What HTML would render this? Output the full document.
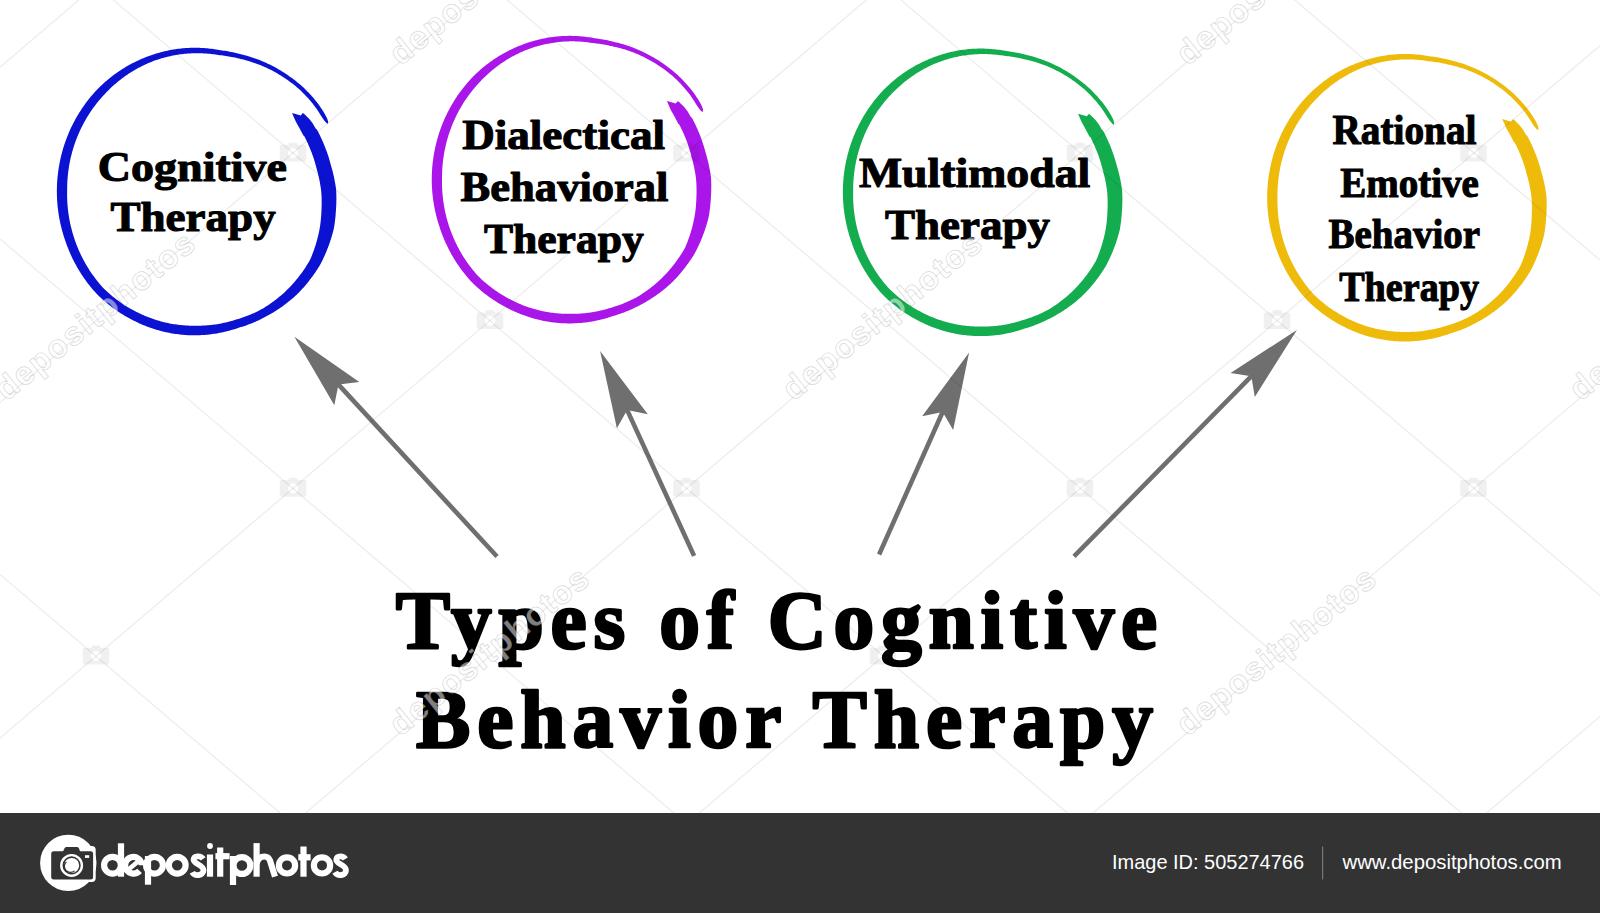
<!DOCTYPE html><html><head><meta charset="utf-8"><style>html,body{margin:0;padding:0;background:#fff;}body{width:1600px;height:913px;overflow:hidden;position:relative;font-family:"Liberation Serif",serif;}svg{position:absolute;left:0;top:0;}</style></head><body>
<svg width="1600" height="913" viewBox="0 0 1600 913">
<defs><path id="ring" d="M106.80 -77.40 L108.30 -76.60 L110.00 -74.80 L113.30 -71.50 L116.80 -67.00 L119.60 -62.00 L120.89 -60.92 L121.65 -59.56 L122.37 -58.19 L123.08 -56.80 L123.77 -55.40 L124.44 -54.00 L125.11 -52.59 L125.75 -51.17 L126.39 -49.74 L126.97 -48.40 L127.59 -46.96 L128.20 -45.51 L128.79 -44.06 L129.37 -42.59 L129.94 -41.12 L130.48 -39.64 L131.02 -38.16 L131.53 -36.66 L132.03 -35.16 L132.52 -33.65 L132.99 -32.14 L133.44 -30.62 L133.88 -29.09 L134.30 -27.55 L134.70 -26.01 L135.04 -24.83 L135.49 -23.29 L135.93 -21.75 L136.35 -20.19 L136.75 -18.63 L137.14 -17.06 L137.51 -15.49 L137.86 -13.91 L138.20 -12.32 L138.52 -10.72 L138.83 -9.12 L139.11 -7.52 L139.38 -5.91 L139.63 -4.29 L139.87 -2.67 L140.09 -1.04 L140.22 0.98 L140.29 2.61 L140.33 4.25 L140.37 5.88 L140.38 7.52 L140.38 9.16 L140.36 10.80 L140.32 12.44 L140.26 14.08 L140.19 15.72 L140.09 17.37 L139.99 19.01 L139.89 20.47 L139.78 22.12 L139.66 23.77 L139.52 25.41 L139.36 27.06 L139.19 28.71 L138.99 30.36 L138.78 32.00 L138.55 33.65 L138.31 35.29 L138.04 36.94 L137.65 38.85 L137.25 40.46 L136.83 42.07 L136.39 43.67 L135.93 45.26 L135.45 46.85 L134.96 48.43 L134.45 50.01 L133.93 51.59 L133.39 53.15 L132.83 54.72 L132.25 56.27 L131.66 57.82 L131.05 59.36 L130.42 60.90 L129.78 62.42 L129.12 63.95 L128.44 65.46 L127.75 66.96 L127.04 68.46 L126.32 69.95 L125.58 71.43 L124.82 72.91 L123.87 74.70 L122.99 76.14 L122.12 77.53 L121.24 78.92 L120.34 80.30 L119.43 81.66 L118.50 83.02 L117.56 84.36 L116.60 85.69 L115.63 87.01 L114.65 88.32 L113.65 89.62 L112.64 90.90 L111.61 92.17 L110.58 93.43 L109.53 94.68 L108.46 95.91 L107.39 97.13 L106.30 98.34 L105.20 99.53 L104.08 100.71 L102.96 101.88 L101.82 103.04 L100.67 104.18 L99.44 105.34 L98.24 106.42 L97.03 107.49 L95.80 108.54 L94.57 109.58 L93.33 110.61 L92.08 111.61 L90.82 112.61 L89.55 113.58 L88.27 114.55 L86.98 115.49 L85.68 116.42 L84.37 117.34 L83.05 118.24 L81.72 119.12 L80.39 119.99 L79.04 120.84 L77.69 121.67 L76.33 122.49 L74.97 123.29 L73.59 124.08 L72.21 124.85 L70.82 125.60 L69.39 126.36 L68.00 127.10 L66.60 127.82 L65.19 128.52 L63.78 129.21 L62.36 129.89 L60.93 130.54 L59.50 131.18 L58.06 131.80 L56.61 132.40 L55.16 132.99 L53.70 133.56 L52.24 134.11 L50.78 134.65 L49.30 135.16 L47.83 135.66 L46.35 136.14 L44.86 136.61 L43.37 137.06 L42.09 137.46 L40.62 137.96 L39.15 138.44 L37.66 138.91 L36.18 139.36 L34.69 139.79 L33.19 140.20 L31.69 140.60 L30.18 140.98 L28.67 141.34 L27.16 141.68 L25.64 142.01 L24.12 142.31 L22.59 142.60 L21.06 142.88 L19.53 143.13 L18.00 143.37 L16.46 143.59 L14.92 143.79 L13.38 143.97 L11.84 144.14 L10.29 144.28 L8.74 144.41 L7.20 144.52 L5.64 144.62 L4.09 144.69 L2.54 144.75 L0.99 144.79 L-0.49 144.80 L-2.05 144.80 L-3.60 144.79 L-5.16 144.75 L-6.71 144.70 L-8.26 144.63 L-9.81 144.54 L-11.37 144.43 L-12.92 144.30 L-14.46 144.16 L-16.01 144.00 L-17.56 143.81 L-19.10 143.62 L-20.64 143.40 L-22.18 143.16 L-23.72 142.91 L-25.25 142.64 L-26.79 142.35 L-28.31 142.05 L-29.84 141.72 L-31.36 141.38 L-32.88 141.02 L-34.39 140.64 L-35.90 140.25 L-37.41 139.83 L-38.91 139.40 L-40.41 138.96 L-41.90 138.49 L-43.39 138.01 L-44.87 137.51 L-46.35 136.99 L-47.82 136.45 L-49.28 135.90 L-50.74 135.33 L-52.20 134.75 L-53.64 134.14 L-55.08 133.52 L-56.52 132.89 L-57.95 132.23 L-59.37 131.56 L-60.78 130.87 L-62.19 130.17 L-63.58 129.45 L-64.97 128.71 L-66.32 127.99 L-67.71 127.24 L-69.08 126.47 L-70.45 125.68 L-71.81 124.88 L-73.16 124.07 L-74.50 123.23 L-75.84 122.38 L-77.16 121.52 L-78.48 120.64 L-79.78 119.74 L-81.08 118.83 L-82.37 117.90 L-83.64 116.96 L-84.91 116.01 L-86.17 115.03 L-87.41 114.05 L-88.65 113.05 L-89.88 112.03 L-91.09 111.00 L-92.30 109.96 L-93.49 108.90 L-94.67 107.83 L-95.84 106.74 L-97.00 105.64 L-98.15 104.52 L-99.41 103.25 L-100.50 102.07 L-101.57 100.87 L-102.62 99.67 L-103.67 98.45 L-104.69 97.21 L-105.71 95.97 L-106.71 94.72 L-107.70 93.45 L-108.68 92.17 L-109.64 90.88 L-110.59 89.58 L-111.52 88.27 L-112.44 86.95 L-113.34 85.62 L-114.23 84.28 L-115.11 82.93 L-115.97 81.57 L-116.81 80.20 L-117.64 78.82 L-118.46 77.43 L-119.26 76.03 L-120.04 74.62 L-120.81 73.20 L-121.57 71.78 L-122.31 70.34 L-123.03 68.90 L-123.74 67.45 L-124.43 65.99 L-125.11 64.53 L-125.77 63.06 L-126.42 61.58 L-127.04 60.09 L-127.66 58.59 L-128.25 57.09 L-128.83 55.59 L-129.40 54.07 L-129.95 52.55 L-130.48 51.03 L-130.99 49.52 L-131.50 47.99 L-132.00 46.45 L-132.48 44.91 L-132.95 43.36 L-133.40 41.81 L-133.84 40.25 L-134.25 38.69 L-134.65 37.12 L-135.04 35.55 L-135.40 33.97 L-135.75 32.39 L-136.09 30.81 L-136.40 29.22 L-136.70 27.63 L-136.98 26.03 L-137.25 24.43 L-137.50 22.83 L-137.73 21.23 L-137.94 19.62 L-138.14 18.02 L-138.31 16.41 L-138.48 14.79 L-138.62 13.18 L-138.75 11.57 L-138.86 9.95 L-138.95 8.33 L-139.02 6.71 L-139.08 5.09 L-139.12 3.47 L-139.14 1.85 L-139.15 0.23 L-139.13 -1.32 L-139.10 -2.93 L-139.05 -4.55 L-138.98 -6.17 L-138.89 -7.79 L-138.79 -9.40 L-138.67 -11.02 L-138.53 -12.63 L-138.37 -14.24 L-138.20 -15.85 L-138.01 -17.46 L-137.80 -19.06 L-137.58 -20.66 L-137.34 -22.26 L-137.08 -23.85 L-136.80 -25.45 L-136.51 -27.04 L-136.20 -28.62 L-135.87 -30.20 L-135.53 -31.78 L-135.17 -33.35 L-134.79 -34.92 L-134.40 -36.49 L-133.99 -38.05 L-133.56 -39.60 L-133.12 -41.15 L-132.66 -42.69 L-132.18 -44.23 L-131.69 -45.77 L-131.18 -47.29 L-130.65 -48.81 L-130.11 -50.33 L-129.55 -51.84 L-128.98 -53.34 L-128.39 -54.83 L-127.78 -56.32 L-127.16 -57.80 L-126.52 -59.27 L-125.87 -60.74 L-125.20 -62.19 L-124.52 -63.64 L-123.82 -65.09 L-123.10 -66.52 L-122.37 -67.94 L-121.63 -69.36 L-120.86 -70.77 L-120.09 -72.16 L-119.30 -73.55 L-118.49 -74.93 L-117.67 -76.30 L-116.84 -77.66 L-115.99 -79.01 L-115.13 -80.35 L-114.25 -81.68 L-113.36 -83.00 L-112.45 -84.31 L-111.53 -85.61 L-110.60 -86.90 L-109.65 -88.17 L-108.69 -89.44 L-107.72 -90.69 L-106.73 -91.93 L-105.73 -93.16 L-104.72 -94.38 L-103.69 -95.59 L-102.65 -96.79 L-101.60 -97.97 L-100.53 -99.14 L-99.46 -100.30 L-98.37 -101.44 L-97.26 -102.57 L-96.13 -103.67 L-95.00 -104.77 L-93.85 -105.85 L-92.69 -106.91 L-91.52 -107.97 L-90.34 -109.01 L-89.14 -110.03 L-87.94 -111.04 L-86.73 -112.04 L-85.50 -113.02 L-84.27 -113.99 L-83.02 -114.94 L-81.77 -115.88 L-80.50 -116.80 L-79.23 -117.71 L-77.95 -118.60 L-76.65 -119.48 L-75.35 -120.34 L-74.04 -121.19 L-72.72 -122.02 L-71.40 -122.84 L-70.06 -123.64 L-68.72 -124.42 L-67.36 -125.19 L-66.00 -125.94 L-64.63 -126.68 L-63.26 -127.40 L-61.88 -128.10 L-60.49 -128.79 L-59.09 -129.46 L-57.69 -130.12 L-56.28 -130.76 L-54.86 -131.38 L-53.44 -131.98 L-52.01 -132.57 L-50.57 -133.14 L-49.13 -133.70 L-47.68 -134.24 L-46.24 -134.76 L-44.78 -135.28 L-43.33 -135.79 L-41.87 -136.27 L-40.40 -136.74 L-38.93 -137.19 L-37.45 -137.62 L-35.97 -138.04 L-34.49 -138.44 L-33.00 -138.82 L-31.50 -139.18 L-30.01 -139.53 L-28.51 -139.86 L-27.00 -140.17 L-25.50 -140.47 L-23.99 -140.74 L-22.48 -141.00 L-20.96 -141.24 L-19.45 -141.46 L-17.93 -141.67 L-16.41 -141.86 L-14.88 -142.03 L-13.36 -142.18 L-11.83 -142.31 L-10.31 -142.43 L-8.78 -142.53 L-7.25 -142.61 L-5.72 -142.67 L-4.19 -142.72 L-2.66 -142.75 L-1.13 -142.75 L0.40 -142.75 L1.93 -142.72 L3.46 -142.67 L4.98 -142.61 L6.51 -142.52 L8.04 -142.42 L9.56 -142.31 L11.08 -142.17 L12.61 -142.02 L14.12 -141.85 L15.64 -141.66 L17.16 -141.45 L18.67 -141.23 L20.18 -140.99 L21.69 -140.73 L23.19 -140.45 L24.50 -140.27 L26.02 -140.08 L27.54 -139.87 L29.06 -139.65 L30.58 -139.40 L32.10 -139.14 L33.61 -138.87 L35.13 -138.57 L36.64 -138.26 L38.15 -137.93 L39.66 -137.58 L41.16 -137.22 L42.66 -136.84 L44.08 -136.46 L45.58 -136.11 L47.10 -135.74 L48.61 -135.34 L50.12 -134.93 L51.63 -134.50 L53.13 -134.06 L54.63 -133.59 L56.13 -133.11 L57.62 -132.60 L59.12 -132.08 L60.60 -131.55 L62.08 -130.99 L63.56 -130.41 L65.03 -129.82 L66.50 -129.21 L67.97 -128.58 L69.42 -127.93 L70.88 -127.27 L72.33 -126.59 L73.77 -125.90 L75.21 -125.19 L76.64 -124.45 L78.07 -123.71 L79.49 -122.94 L80.90 -122.16 L82.31 -121.36 L83.71 -120.54 L85.10 -119.70 L86.48 -118.85 L87.86 -117.98 L89.23 -117.09 L90.59 -116.18 L91.94 -115.26 L93.29 -114.32 L94.62 -113.37 L95.95 -112.40 L97.27 -111.41 L98.58 -110.40 L99.88 -109.38 L101.17 -108.34 L102.45 -107.29 L103.73 -106.22 L104.99 -105.14 L106.25 -104.04 L107.53 -102.88 L108.73 -101.72 L109.92 -100.54 L111.10 -99.35 L112.26 -98.14 L113.42 -96.92 L114.56 -95.68 L115.69 -94.43 L116.80 -93.16 L117.91 -91.88 L119.00 -90.59 L120.07 -89.28 L121.14 -87.96 L122.23 -86.55 L123.21 -85.17 L124.18 -83.77 L125.13 -82.36 L126.07 -80.94 L127.00 -79.50 L127.91 -78.06 L128.80 -76.59 L129.63 -75.10 L130.40 -73.57 L131.10 -72.00 L131.71 -70.38 L132.18 -68.69 L131.98 -66.66 L131.98 -66.66 L130.21 -67.64 L129.06 -68.93 L128.03 -70.27 L127.05 -71.64 L126.12 -73.02 L125.22 -74.42 L124.34 -75.84 L123.46 -77.24 L122.56 -78.64 L121.64 -80.02 L120.71 -81.40 L119.77 -82.76 L118.81 -84.11 L117.85 -85.35 L116.82 -86.64 L115.77 -87.91 L114.72 -89.18 L113.65 -90.43 L112.57 -91.66 L111.48 -92.88 L110.37 -94.09 L109.25 -95.28 L108.13 -96.46 L106.99 -97.62 L105.83 -98.77 L104.67 -99.91 L103.51 -100.96 L102.30 -102.03 L101.07 -103.09 L99.83 -104.13 L98.58 -105.15 L97.32 -106.15 L96.06 -107.14 L94.78 -108.11 L93.49 -109.06 L92.20 -110.00 L90.89 -110.92 L89.58 -111.82 L88.26 -112.71 L86.94 -113.58 L85.61 -114.44 L84.27 -115.28 L82.92 -116.10 L81.56 -116.90 L80.20 -117.69 L78.84 -118.46 L77.46 -119.21 L76.08 -119.95 L74.69 -120.66 L73.30 -121.36 L71.90 -122.05 L70.50 -122.71 L69.09 -123.36 L67.68 -123.99 L66.26 -124.60 L64.83 -125.19 L63.40 -125.76 L61.97 -126.31 L60.53 -126.85 L59.09 -127.37 L57.65 -127.87 L56.20 -128.35 L54.75 -128.82 L53.30 -129.27 L51.84 -129.70 L50.38 -130.11 L48.92 -130.50 L47.46 -130.88 L45.99 -131.24 L44.53 -131.58 L43.04 -131.90 L41.51 -132.28 L40.06 -132.63 L38.60 -132.96 L37.14 -133.28 L35.68 -133.57 L34.22 -133.85 L32.76 -134.11 L31.30 -134.35 L29.83 -134.57 L28.36 -134.77 L26.90 -134.96 L25.43 -135.13 L23.96 -135.28 L22.30 -135.49 L20.85 -135.72 L19.39 -135.94 L17.94 -136.15 L16.48 -136.33 L15.02 -136.50 L13.56 -136.65 L12.10 -136.79 L10.64 -136.91 L9.17 -137.01 L7.71 -137.09 L6.24 -137.16 L4.78 -137.21 L3.31 -137.24 L1.85 -137.26 L0.38 -137.25 L-1.08 -137.24 L-2.55 -137.20 L-4.01 -137.15 L-5.48 -137.08 L-6.94 -137.00 L-8.40 -136.89 L-9.86 -136.78 L-11.32 -136.64 L-12.78 -136.49 L-14.23 -136.32 L-15.68 -136.13 L-17.13 -135.92 L-18.58 -135.70 L-20.03 -135.46 L-21.47 -135.21 L-22.91 -134.94 L-24.35 -134.65 L-25.78 -134.34 L-27.21 -134.02 L-28.64 -133.68 L-30.06 -133.33 L-31.48 -132.96 L-32.89 -132.57 L-34.30 -132.16 L-35.71 -131.74 L-37.11 -131.30 L-38.50 -130.85 L-39.89 -130.38 L-41.28 -129.90 L-42.66 -129.39 L-44.03 -128.87 L-45.40 -128.33 L-46.76 -127.77 L-48.11 -127.19 L-49.45 -126.59 L-50.79 -125.98 L-52.12 -125.35 L-53.44 -124.71 L-54.75 -124.05 L-56.06 -123.37 L-57.36 -122.68 L-58.66 -121.98 L-59.94 -121.26 L-61.22 -120.53 L-62.49 -119.78 L-63.75 -119.02 L-65.00 -118.24 L-66.24 -117.45 L-67.47 -116.64 L-68.70 -115.82 L-69.92 -114.99 L-71.12 -114.14 L-72.32 -113.28 L-73.51 -112.40 L-74.69 -111.51 L-75.86 -110.61 L-77.01 -109.69 L-78.16 -108.76 L-79.30 -107.82 L-80.43 -106.86 L-81.55 -105.89 L-82.65 -104.91 L-83.75 -103.91 L-84.83 -102.91 L-85.91 -101.89 L-86.97 -100.85 L-88.02 -99.81 L-89.06 -98.75 L-90.09 -97.69 L-91.11 -96.61 L-92.12 -95.52 L-93.12 -94.43 L-94.12 -93.33 L-95.10 -92.21 L-96.07 -91.08 L-97.03 -89.95 L-97.97 -88.80 L-98.91 -87.64 L-99.83 -86.47 L-100.73 -85.29 L-101.63 -84.10 L-102.51 -82.90 L-103.38 -81.69 L-104.24 -80.46 L-105.08 -79.23 L-105.91 -77.99 L-106.73 -76.74 L-107.53 -75.48 L-108.32 -74.21 L-109.10 -72.93 L-109.86 -71.65 L-110.61 -70.35 L-111.34 -69.05 L-112.06 -67.73 L-112.77 -66.41 L-113.46 -65.08 L-114.14 -63.74 L-114.80 -62.40 L-115.45 -61.05 L-116.09 -59.69 L-116.71 -58.32 L-117.31 -56.94 L-117.90 -55.56 L-118.48 -54.17 L-119.04 -52.78 L-119.58 -51.38 L-120.11 -49.97 L-120.63 -48.56 L-121.13 -47.14 L-121.61 -45.71 L-122.08 -44.28 L-122.54 -42.84 L-122.98 -41.40 L-123.40 -39.96 L-123.81 -38.51 L-124.20 -37.05 L-124.58 -35.59 L-124.94 -34.13 L-125.28 -32.66 L-125.61 -31.19 L-125.93 -29.71 L-126.23 -28.23 L-126.51 -26.75 L-126.77 -25.26 L-127.03 -23.78 L-127.26 -22.28 L-127.48 -20.79 L-127.68 -19.29 L-127.87 -17.80 L-128.04 -16.30 L-128.19 -14.79 L-128.33 -13.29 L-128.45 -11.79 L-128.56 -10.28 L-128.65 -8.77 L-128.72 -7.26 L-128.78 -5.75 L-128.82 -4.25 L-128.85 -2.74 L-128.85 -1.23 L-128.86 0.35 L-128.88 1.86 L-128.89 3.37 L-128.89 4.89 L-128.86 6.40 L-128.82 7.91 L-128.77 9.42 L-128.70 10.93 L-128.61 12.44 L-128.51 13.95 L-128.39 15.46 L-128.25 16.96 L-128.10 18.47 L-127.93 19.98 L-127.74 21.48 L-127.54 22.98 L-127.33 24.48 L-127.09 25.97 L-126.84 27.47 L-126.58 28.96 L-126.30 30.45 L-126.00 31.94 L-125.69 33.42 L-125.36 34.90 L-125.01 36.37 L-124.65 37.84 L-124.28 39.31 L-123.88 40.78 L-123.48 42.24 L-123.05 43.69 L-122.61 45.14 L-122.16 46.59 L-121.68 48.05 L-121.19 49.49 L-120.69 50.92 L-120.17 52.34 L-119.64 53.76 L-119.09 55.18 L-118.53 56.58 L-117.95 57.98 L-117.36 59.38 L-116.75 60.76 L-116.12 62.14 L-115.48 63.52 L-114.83 64.88 L-114.16 66.24 L-113.48 67.59 L-112.78 68.93 L-112.07 70.27 L-111.34 71.60 L-110.60 72.91 L-109.85 74.23 L-109.08 75.53 L-108.30 76.82 L-107.50 78.10 L-106.69 79.38 L-105.86 80.65 L-105.03 81.90 L-104.17 83.15 L-103.31 84.39 L-102.43 85.61 L-101.54 86.83 L-100.63 88.04 L-99.71 89.23 L-98.78 90.42 L-97.84 91.59 L-96.88 92.76 L-95.91 93.91 L-94.93 95.05 L-93.94 96.19 L-92.93 97.31 L-91.99 98.23 L-90.91 99.27 L-89.82 100.29 L-88.72 101.31 L-87.60 102.31 L-86.48 103.29 L-85.35 104.27 L-84.20 105.23 L-83.05 106.17 L-81.89 107.11 L-80.71 108.02 L-79.53 108.93 L-78.34 109.82 L-77.14 110.69 L-75.93 111.56 L-74.71 112.40 L-73.49 113.24 L-72.25 114.05 L-71.01 114.86 L-69.76 115.64 L-68.50 116.42 L-67.23 117.18 L-65.96 117.92 L-64.67 118.65 L-63.38 119.36 L-62.09 120.06 L-60.75 120.76 L-59.44 121.44 L-58.13 122.10 L-56.81 122.74 L-55.49 123.37 L-54.16 123.99 L-52.82 124.59 L-51.47 125.17 L-50.12 125.73 L-48.77 126.29 L-47.41 126.82 L-46.04 127.34 L-44.67 127.84 L-43.30 128.33 L-41.92 128.80 L-40.53 129.25 L-39.14 129.69 L-37.75 130.11 L-36.35 130.51 L-34.95 130.90 L-33.54 131.27 L-32.13 131.63 L-30.72 131.97 L-29.30 132.29 L-27.89 132.59 L-26.46 132.88 L-25.04 133.16 L-23.61 133.41 L-22.18 133.65 L-20.75 133.87 L-19.32 134.08 L-17.89 134.26 L-16.45 134.44 L-15.01 134.59 L-13.57 134.73 L-12.13 134.85 L-10.69 134.95 L-9.25 135.04 L-7.81 135.11 L-6.37 135.16 L-4.92 135.20 L-3.48 135.22 L-2.04 135.22 L-0.60 135.21 L0.92 135.21 L2.36 135.21 L3.80 135.19 L5.24 135.15 L6.68 135.10 L8.13 135.03 L9.57 134.95 L11.01 134.84 L12.45 134.73 L13.88 134.59 L15.32 134.44 L16.76 134.27 L18.19 134.08 L19.62 133.88 L21.05 133.66 L22.48 133.42 L23.90 133.17 L25.32 132.90 L26.74 132.61 L28.16 132.31 L29.57 131.99 L30.99 131.65 L32.39 131.30 L33.80 130.93 L35.20 130.54 L36.59 130.14 L37.98 129.72 L39.37 129.29 L40.96 128.80 L42.36 128.39 L43.75 127.96 L45.14 127.51 L46.52 127.05 L47.90 126.57 L49.28 126.08 L50.65 125.56 L52.01 125.03 L53.38 124.49 L54.73 123.93 L56.08 123.35 L57.43 122.76 L58.77 122.15 L60.10 121.52 L61.43 120.88 L62.75 120.23 L64.06 119.55 L65.37 118.86 L66.62 118.14 L67.89 117.38 L69.15 116.60 L70.40 115.80 L71.64 114.99 L72.88 114.17 L74.10 113.33 L75.32 112.47 L76.53 111.60 L77.73 110.72 L78.92 109.82 L80.10 108.91 L81.27 107.99 L82.43 107.05 L83.58 106.10 L84.73 105.13 L85.86 104.15 L86.98 103.16 L88.09 102.15 L89.19 101.13 L90.28 100.10 L91.35 99.05 L92.42 98.00 L93.42 96.98 L94.46 95.89 L95.49 94.79 L96.50 93.68 L97.51 92.55 L98.50 91.41 L99.48 90.27 L100.45 89.11 L101.40 87.93 L102.35 86.75 L103.28 85.56 L104.19 84.35 L105.10 83.14 L105.99 81.91 L106.87 80.67 L107.74 79.43 L108.59 78.17 L109.43 76.90 L110.25 75.62 L111.06 74.34 L111.86 73.04 L112.65 71.73 L113.42 70.42 L114.16 69.12 L114.60 68.05 L115.20 66.64 L115.78 65.22 L116.34 63.80 L116.89 62.37 L117.42 60.94 L117.94 59.50 L118.44 58.06 L118.92 56.61 L119.39 55.16 L119.84 53.71 L120.28 52.25 L120.70 50.78 L121.10 49.32 L121.49 47.85 L121.86 46.38 L122.22 44.90 L122.56 43.43 L122.88 41.95 L123.19 40.46 L123.48 38.98 L123.75 37.49 L124.01 36.01 L124.18 34.80 L124.38 33.31 L124.57 31.81 L124.74 30.31 L124.89 28.81 L125.02 27.31 L125.14 25.81 L125.24 24.31 L125.33 22.82 L125.40 21.32 L125.45 19.83 L125.52 18.15 L125.58 16.66 L125.62 15.18 L125.65 13.69 L125.66 12.21 L125.65 10.72 L125.63 9.24 L125.59 7.76 L125.54 6.28 L125.47 4.81 L125.38 3.33 L125.28 1.86 L125.20 0.78 L125.02 -0.68 L124.83 -2.15 L124.62 -3.60 L124.39 -5.06 L124.15 -6.50 L123.89 -7.95 L123.62 -9.39 L123.33 -10.82 L123.03 -12.24 L122.71 -13.67 L122.38 -15.08 L122.04 -16.49 L121.67 -17.89 L121.30 -19.29 L120.91 -20.68 L120.44 -22.43 L120.09 -23.82 L119.73 -25.21 L119.35 -26.59 L118.96 -27.96 L118.55 -29.33 L118.13 -30.69 L117.70 -32.05 L117.25 -33.40 L116.78 -34.74 L116.31 -36.08 L115.82 -37.41 L115.31 -38.73 L114.79 -40.04 L114.26 -41.35 L113.72 -42.65 L113.13 -44.05 L112.58 -45.34 L112.01 -46.63 L111.43 -47.90 L110.84 -49.17 L110.23 -50.44 L109.61 -51.69 L108.98 -52.94 L108.36 -54.19 L107.40 -54.90 L103.10 -63.10 L99.90 -68.70 L98.20 -72.60 L97.10 -75.00 L96.10 -77.60 L104.80 -75.00Z"/></defs>
<use href="#ring" transform="translate(196.00 190.50)" fill="#0c12d2"/>
<use href="#ring" transform="translate(570.90 178.60)" fill="#aa15ea"/>
<use href="#ring" transform="translate(982.00 191.30)" fill="#13ad50"/>
<use href="#ring" transform="translate(1406.30 196.70)" fill="#efbb0b"/>
<path d="M294.40 336.80 L334.31 405.15 L338.46 384.58 L359.30 382.10 Z" fill="#6f6f6f"/><line x1="336.43" y1="382.38" x2="497.00" y2="556.50" stroke="#6f6f6f" stroke-width="4.6"/>
<path d="M600.10 351.00 L616.88 428.35 L627.20 410.08 L647.78 414.17 Z" fill="#6f6f6f"/><line x1="625.95" y1="407.35" x2="694.10" y2="555.90" stroke="#6f6f6f" stroke-width="4.6"/>
<path d="M969.10 352.60 L922.10 416.28 L942.64 411.97 L953.15 430.12 Z" fill="#6f6f6f"/><line x1="943.86" y1="409.23" x2="879.10" y2="554.50" stroke="#6f6f6f" stroke-width="4.6"/>
<path d="M1296.90 329.90 L1230.56 373.07 L1251.31 376.23 L1254.80 396.92 Z" fill="#6f6f6f"/><line x1="1253.41" y1="374.09" x2="1074.00" y2="556.40" stroke="#6f6f6f" stroke-width="4.6"/>
<g font-family="Liberation Serif" font-weight="bold" fill="#000" stroke="#000" stroke-linejoin="round">
<text x="97.80" y="180.60" font-size="42.60" stroke-width="1.10" textLength="189.20" lengthAdjust="spacingAndGlyphs">Cognitive</text>
<text x="110.50" y="231.00" font-size="42.60" stroke-width="1.10" textLength="165.20" lengthAdjust="spacingAndGlyphs">Therapy</text>
<text x="462.20" y="149.10" font-size="42.60" stroke-width="1.10" textLength="202.80" lengthAdjust="spacingAndGlyphs">Dialectical</text>
<text x="460.60" y="201.40" font-size="42.60" stroke-width="1.10" textLength="207.90" lengthAdjust="spacingAndGlyphs">Behavioral</text>
<text x="483.90" y="253.40" font-size="42.60" stroke-width="1.10" textLength="160.00" lengthAdjust="spacingAndGlyphs">Therapy</text>
<text x="858.90" y="187.00" font-size="42.60" stroke-width="1.10" textLength="231.40" lengthAdjust="spacingAndGlyphs">Multimodal</text>
<text x="885.10" y="239.10" font-size="42.60" stroke-width="1.10" textLength="164.90" lengthAdjust="spacingAndGlyphs">Therapy</text>
<text x="1332.50" y="143.80" font-size="41.20" stroke-width="1.10" textLength="144.00" lengthAdjust="spacingAndGlyphs">Rational</text>
<text x="1340.30" y="196.90" font-size="41.20" stroke-width="1.10" textLength="138.50" lengthAdjust="spacingAndGlyphs">Emotive</text>
<text x="1328.50" y="247.90" font-size="41.20" stroke-width="1.10" textLength="151.50" lengthAdjust="spacingAndGlyphs">Behavior</text>
<text x="1339.20" y="300.50" font-size="41.20" stroke-width="1.10" textLength="139.80" lengthAdjust="spacingAndGlyphs">Therapy</text>
<text x="395.80" y="647.60" font-size="81.50" stroke-width="2.60" textLength="761.30" lengthAdjust="spacing">Types of Cognitive</text>
<text x="416.00" y="746.70" font-size="81.50" stroke-width="2.60" textLength="736.90" lengthAdjust="spacing">Behavior Therapy</text>
</g>
<g stroke="#000" stroke-opacity="0.075" stroke-width="1.3" fill="none">
<line x1="0.0" y1="67.2" x2="78.9" y2="0.0"/>
<line x1="0.0" y1="402.6" x2="472.5" y2="0.0"/>
<line x1="0.0" y1="738.0" x2="866.2" y2="0.0"/>
<line x1="305.6" y1="813.0" x2="1259.9" y2="0.0"/>
<line x1="699.3" y1="813.0" x2="1600.0" y2="45.6"/>
<line x1="1093.0" y1="813.0" x2="1600.0" y2="381.0"/>
<line x1="1486.6" y1="813.0" x2="1600.0" y2="716.4"/>
<line x1="1294.7" y1="0.0" x2="1600.0" y2="260.1"/>
<line x1="900.9" y1="0.0" x2="1600.0" y2="595.6"/>
<line x1="507.2" y1="0.0" x2="1461.4" y2="813.0"/>
<line x1="113.4" y1="0.0" x2="1067.6" y2="813.0"/>
<line x1="0.0" y1="238.9" x2="673.8" y2="813.0"/>
<line x1="0.0" y1="574.4" x2="280.1" y2="813.0"/>
</g>
<g fill="#000" fill-opacity="0.06">
<path fill-rule="evenodd" d="M281.7 144.7 h22.6 a2 2 0 0 1 2 2 v12.7 a2 2 0 0 1 -2 2 h-22.6 a2 2 0 0 1 -2 -2 v-12.7 a2 2 0 0 1 2 -2z M293.0 148.0 a5 5 0 1 0 0.01 0z"/>
<rect x="288.5" y="142.4" width="9" height="2.6" rx="1"/>
<path fill-rule="evenodd" d="M675.2 144.7 h22.6 a2 2 0 0 1 2 2 v12.7 a2 2 0 0 1 -2 2 h-22.6 a2 2 0 0 1 -2 -2 v-12.7 a2 2 0 0 1 2 -2z M686.5 148.0 a5 5 0 1 0 0.01 0z"/>
<rect x="682.0" y="142.4" width="9" height="2.6" rx="1"/>
<path fill-rule="evenodd" d="M1068.7 144.7 h22.6 a2 2 0 0 1 2 2 v12.7 a2 2 0 0 1 -2 2 h-22.6 a2 2 0 0 1 -2 -2 v-12.7 a2 2 0 0 1 2 -2z M1080.0 148.0 a5 5 0 1 0 0.01 0z"/>
<rect x="1075.5" y="142.4" width="9" height="2.6" rx="1"/>
<path fill-rule="evenodd" d="M1462.2 144.7 h22.6 a2 2 0 0 1 2 2 v12.7 a2 2 0 0 1 -2 2 h-22.6 a2 2 0 0 1 -2 -2 v-12.7 a2 2 0 0 1 2 -2z M1473.5 148.0 a5 5 0 1 0 0.01 0z"/>
<rect x="1469.0" y="142.4" width="9" height="2.6" rx="1"/>
<path fill-rule="evenodd" d="M281.7 480.0 h22.6 a2 2 0 0 1 2 2 v12.7 a2 2 0 0 1 -2 2 h-22.6 a2 2 0 0 1 -2 -2 v-12.7 a2 2 0 0 1 2 -2z M293.0 483.3 a5 5 0 1 0 0.01 0z"/>
<rect x="288.5" y="477.7" width="9" height="2.6" rx="1"/>
<path fill-rule="evenodd" d="M675.2 480.0 h22.6 a2 2 0 0 1 2 2 v12.7 a2 2 0 0 1 -2 2 h-22.6 a2 2 0 0 1 -2 -2 v-12.7 a2 2 0 0 1 2 -2z M686.5 483.3 a5 5 0 1 0 0.01 0z"/>
<rect x="682.0" y="477.7" width="9" height="2.6" rx="1"/>
<path fill-rule="evenodd" d="M1068.7 480.0 h22.6 a2 2 0 0 1 2 2 v12.7 a2 2 0 0 1 -2 2 h-22.6 a2 2 0 0 1 -2 -2 v-12.7 a2 2 0 0 1 2 -2z M1080.0 483.3 a5 5 0 1 0 0.01 0z"/>
<rect x="1075.5" y="477.7" width="9" height="2.6" rx="1"/>
<path fill-rule="evenodd" d="M1462.2 480.0 h22.6 a2 2 0 0 1 2 2 v12.7 a2 2 0 0 1 -2 2 h-22.6 a2 2 0 0 1 -2 -2 v-12.7 a2 2 0 0 1 2 -2z M1473.5 483.3 a5 5 0 1 0 0.01 0z"/>
<rect x="1469.0" y="477.7" width="9" height="2.6" rx="1"/>
<path fill-rule="evenodd" d="M478.7 312.4 h22.6 a2 2 0 0 1 2 2 v12.7 a2 2 0 0 1 -2 2 h-22.6 a2 2 0 0 1 -2 -2 v-12.7 a2 2 0 0 1 2 -2z M490.0 315.7 a5 5 0 1 0 0.01 0z"/>
<rect x="485.5" y="310.1" width="9" height="2.6" rx="1"/>
<path fill-rule="evenodd" d="M1265.7 312.4 h22.6 a2 2 0 0 1 2 2 v12.7 a2 2 0 0 1 -2 2 h-22.6 a2 2 0 0 1 -2 -2 v-12.7 a2 2 0 0 1 2 -2z M1277.0 315.7 a5 5 0 1 0 0.01 0z"/>
<rect x="1272.5" y="310.1" width="9" height="2.6" rx="1"/>
<path fill-rule="evenodd" d="M84.7 647.7 h22.6 a2 2 0 0 1 2 2 v12.7 a2 2 0 0 1 -2 2 h-22.6 a2 2 0 0 1 -2 -2 v-12.7 a2 2 0 0 1 2 -2z M96.0 651.0 a5 5 0 1 0 0.01 0z"/>
<rect x="91.5" y="645.4" width="9" height="2.6" rx="1"/>
<path fill-rule="evenodd" d="M871.7 647.7 h22.6 a2 2 0 0 1 2 2 v12.7 a2 2 0 0 1 -2 2 h-22.6 a2 2 0 0 1 -2 -2 v-12.7 a2 2 0 0 1 2 -2z M883.0 651.0 a5 5 0 1 0 0.01 0z"/>
<rect x="878.5" y="645.4" width="9" height="2.6" rx="1"/>
</g>
<text transform="translate(98.0 318.7) rotate(-39)" x="0" y="7" text-anchor="middle" font-family="Liberation Sans" font-weight="bold" font-size="33" letter-spacing="1.5" fill="#fff" fill-opacity="0.5" stroke="#000" stroke-opacity="0.13" stroke-width="1.2">depositphotos</text>
<text transform="translate(885.0 318.7) rotate(-39)" x="0" y="7" text-anchor="middle" font-family="Liberation Sans" font-weight="bold" font-size="33" letter-spacing="1.5" fill="#fff" fill-opacity="0.5" stroke="#000" stroke-opacity="0.13" stroke-width="1.2">depositphotos</text>
<text transform="translate(1672.0 318.7) rotate(-39)" x="0" y="7" text-anchor="middle" font-family="Liberation Sans" font-weight="bold" font-size="33" letter-spacing="1.5" fill="#fff" fill-opacity="0.5" stroke="#000" stroke-opacity="0.13" stroke-width="1.2">depositphotos</text>
<text transform="translate(492.0 654.0) rotate(-39)" x="0" y="7" text-anchor="middle" font-family="Liberation Sans" font-weight="bold" font-size="33" letter-spacing="1.5" fill="#fff" fill-opacity="0.5" stroke="#000" stroke-opacity="0.13" stroke-width="1.2">depositphotos</text>
<text transform="translate(1279.0 654.0) rotate(-39)" x="0" y="7" text-anchor="middle" font-family="Liberation Sans" font-weight="bold" font-size="33" letter-spacing="1.5" fill="#fff" fill-opacity="0.5" stroke="#000" stroke-opacity="0.13" stroke-width="1.2">depositphotos</text>
<text transform="translate(492.0 -16.7) rotate(-39)" x="0" y="7" text-anchor="middle" font-family="Liberation Sans" font-weight="bold" font-size="33" letter-spacing="1.5" fill="#fff" fill-opacity="0.5" stroke="#000" stroke-opacity="0.13" stroke-width="1.2">depositphotos</text>
<text transform="translate(1279.0 -16.7) rotate(-39)" x="0" y="7" text-anchor="middle" font-family="Liberation Sans" font-weight="bold" font-size="33" letter-spacing="1.5" fill="#fff" fill-opacity="0.5" stroke="#000" stroke-opacity="0.13" stroke-width="1.2">depositphotos</text>
<rect x="0" y="813" width="1600" height="100" fill="#333333"/>

<g fill="#ffffff">
 <circle cx="68.3" cy="862.9" r="28.2"/>
 <rect x="52" y="846" width="43.7" height="36" rx="4"/>
</g>
<g fill="#333333">
 <rect x="51.2" y="851.3" width="41.9" height="28.3" rx="2.5"/>
 <path d="M62.8 852 L64.6 848.2 Q65.2 847.1 66.5 847.1 L77 847.1 Q78.2 847.1 78.8 848.2 L80.4 852 Z"/>
</g>
<circle cx="71.6" cy="865.4" r="10.3" fill="none" stroke="#fff" stroke-width="2.4"/>
<circle cx="71.7" cy="865.4" r="7.5" fill="#fff"/>
<path d="M66.4 861.8 A6 6 0 0 0 74.6 870.8" fill="none" stroke="#333" stroke-width="1.1"/>
<rect x="85" y="855.2" width="4.2" height="2.7" fill="#fff"/>
<text x="1112.00" y="868.9" font-family="Liberation Sans" font-size="20.3" fill="#ffffff" textLength="192.00" lengthAdjust="spacingAndGlyphs">Image ID: 505274766</text>
<rect x="1322" y="846.5" width="1.2" height="33" fill="#777"/>
<text x="1342.50" y="868.9" font-family="Liberation Sans" font-size="20.3" fill="#ffffff" textLength="219.20" lengthAdjust="spacingAndGlyphs">www.depositphotos.com</text>
<g fill="none" stroke="#ffffff" stroke-width="6.2">
 <circle cx="112.5" cy="865.2" r="8.4"/>
 <line x1="121" y1="843.3" x2="121" y2="876.7"/>
 <path d="M139.57 870.85 A8.30 8.30 0 1 1 141.70 865.29"/>
 <line x1="127.04" y1="870.64" x2="139.76" y2="859.96" stroke-width="4.6"/>
 <circle cx="154.5" cy="865.2" r="8.4"/>
 <line x1="148" y1="856" x2="148" y2="884.7"/>
 <circle cx="177.2" cy="865.2" r="8.4"/>
 <path d="M203.2 858.8 C201 855.5 194 855.2 193.6 859.6 C193.2 864 203.5 864.5 203.5 870.3 C203.5 876 194.5 876.5 192.3 872.2" stroke-width="5.8"/>
 <line x1="210" y1="854.5" x2="210" y2="876.7"/>
 <path d="M220.2 847.5 L220.2 876.7" />
 <line x1="215.4" y1="856.2" x2="229.6" y2="856.2"/>
 <circle cx="241.9" cy="865.5" r="8.4"/>
 <line x1="233" y1="856" x2="233" y2="885"/>
 <line x1="256.6" y1="843.1" x2="256.6" y2="876.7"/>
 <path d="M256.6 864 Q258 856.5 264.5 856.5 Q268.5 856.5 270 860.5 L275 876.7"/>
 <circle cx="287" cy="865.4" r="8.1"/>
 <path d="M303.5 846.5 L303.5 876.7"/>
 <line x1="298.3" y1="857.3" x2="310.6" y2="857.3"/>
 <circle cx="322" cy="865.4" r="8.1"/>
 <path d="M345.3 859 C343.3 855.5 336.8 855.2 336.3 859.6 C335.8 864 346 864.5 346 870.3 C346 876 337.3 876.5 335 872.2" stroke-width="5.8"/>
</g>
<circle cx="210" cy="846" r="2.9" fill="#ffffff"/>

</svg></body></html>
